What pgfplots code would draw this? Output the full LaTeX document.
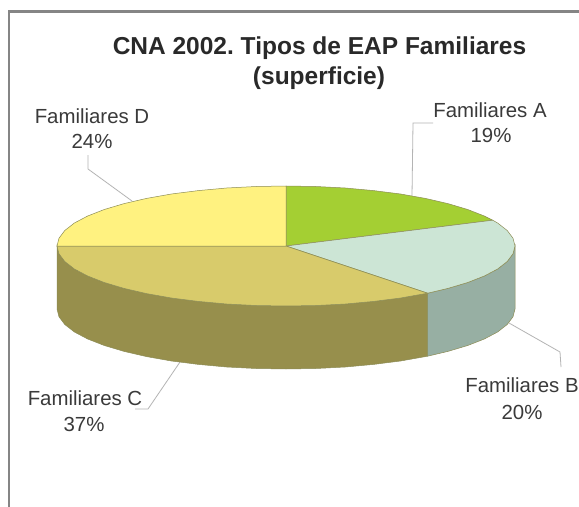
\documentclass[border=0pt]{standalone}
\usepackage{pgfplots}
\pgfplotsset{compat=1.18}
\usepackage{fontspec}
\setmainfont{Liberation Sans}
\frenchspacing
\definecolor{cA}{HTML}{A4CF33}
\definecolor{cB}{HTML}{CCE5D5}
\definecolor{cC}{HTML}{D8CB6B}
\definecolor{cD}{HTML}{FFF280}
\definecolor{sB}{HTML}{97AFA3}
\definecolor{sC}{HTML}{978F4C}
\definecolor{edge}{HTML}{8C8C55}
\definecolor{lead}{HTML}{B4B4B4}
\definecolor{frame}{HTML}{858585}
\definecolor{txt}{HTML}{3A3A3A}
\begin{document}
\begin{tikzpicture}
\begin{axis}[at={(0,0)},anchor=south west,width=579bp,height=507bp,scale only axis,
  xmin=0,xmax=579,ymin=0,ymax=507,y dir=reverse,hide axis,clip=true]
\addplot[draw=none,fill=white] coordinates {(0,0)(579,0)(579,507)(0,507)} -- cycle;
% frame
\addplot[frame,line width=2.2pt] coordinates {(9,507)(9,11.5)(579,11.5)};
% leader lines
\addplot[lead,line width=0.8pt] coordinates {(88,155)(88,169)(132,201)};
\addplot[lead,line width=0.8pt] coordinates {(433,123)(413,123)(412,196)};
\addplot[lead,line width=0.8pt] coordinates {(509,323)(560,352)(561,367)};
\addplot[lead,line width=0.8pt] coordinates {(180,362)(148,409)(135,409)};
% side C
\addplot[draw=edge,line width=0.5pt,fill=sC] coordinates {
(427.6,293.2)(400.5,298)(373.6,301.4)(345.3,304)(315.9,305.5)(286,306)(256.1,305.5)(226.7,304)(198.4,301.4)(171.5,298)(146.6,293.6)(124.1,288.4)(104.3,282.5)(87.7,276)(74.4,269)(64.8,261.5)(59,253.8)(57,246)
(57,309)(59,316.8)(64.8,324.5)(74.4,332)(87.7,339)(104.3,345.5)(124.1,351.4)(146.6,356.6)(171.5,361)(198.4,364.4)(226.7,367)(256.1,368.5)(286,369)(315.9,368.5)(345.3,367)(373.6,364.4)(400.5,361)(427.6,356.2)} -- cycle;
% side B
\addplot[draw=edge,line width=0.5pt,fill=sB] coordinates {
(515,246)(513,253.8)(507.2,261.5)(497.6,269)(484.3,276)(467.7,282.5)(447.9,288.4)(427.6,293.2)
(427.6,356.2)(447.9,351.4)(467.7,345.5)(484.3,339)(497.6,332)(507.2,324.5)(513,316.8)(515,309)} -- cycle;
% top A
\addplot[draw=edge,line width=0.5pt,fill=cA] coordinates {
(286,246)(286,186)(315.9,186.5)(345.3,188)(373.6,190.6)(400.5,194)(425.4,198.4)(447.9,203.6)(467.7,209.5)(484.3,216)(492.7,220.2)} -- cycle;
% top B
\addplot[draw=edge,line width=0.5pt,fill=cB] coordinates {
(286,246)(492.7,220.2)(497.6,223)(507.2,230.5)(513,238.2)(515,246)(513,253.8)(507.2,261.5)(497.6,269)(484.3,276)(467.7,282.5)(447.9,288.4)(427.6,293.2)} -- cycle;
% top C
\addplot[draw=edge,line width=0.5pt,fill=cC] coordinates {
(286,246)(427.6,293.2)(400.5,298)(373.6,301.4)(345.3,304)(315.9,305.5)(286,306)(256.1,305.5)(226.7,304)(198.4,301.4)(171.5,298)(146.6,293.6)(124.1,288.4)(104.3,282.5)(87.7,276)(74.4,269)(64.8,261.5)(59,253.8)(57,246)} -- cycle;
% top D
\addplot[draw=edge,line width=0.5pt,fill=cD] coordinates {
(286,246)(57,246)(59,238.2)(64.8,230.5)(74.4,223)(87.7,216)(104.3,209.5)(124.1,203.6)(146.6,198.4)(171.5,194)(198.4,190.6)(226.7,188)(256.1,186.5)(286,186)} -- cycle;
% text
\node[txt!70!black,font=\fontsize{24.5bp}{30bp}\selectfont\bfseries] at (axis cs:319.5,48) {CNA 2002. Tipos de EAP Familiares};
\node[txt!70!black,font=\fontsize{24.5bp}{30bp}\selectfont\bfseries] at (axis cs:319,78) {(superficie)};
\node[txt,font=\fontsize{20.4bp}{25bp}\selectfont] at (axis cs:92,116) {Familiares D};
\node[txt,font=\fontsize{20.4bp}{25bp}\selectfont] at (axis cs:92,141) {24\%};
\node[txt,font=\fontsize{20.4bp}{25bp}\selectfont] at (axis cs:490,110) {Familiares A};
\node[txt,font=\fontsize{20.4bp}{25bp}\selectfont] at (axis cs:491,135) {19\%};
\node[txt,font=\fontsize{20.4bp}{25bp}\selectfont] at (axis cs:85,398) {Familiares C};
\node[txt,font=\fontsize{20.4bp}{25bp}\selectfont] at (axis cs:84,424) {37\%};
\node[txt,font=\fontsize{20.4bp}{25bp}\selectfont] at (axis cs:522,385) {Familiares B};
\node[txt,font=\fontsize{20.4bp}{25bp}\selectfont] at (axis cs:522,412) {20\%};
\end{axis}
\end{tikzpicture}
\end{document}
